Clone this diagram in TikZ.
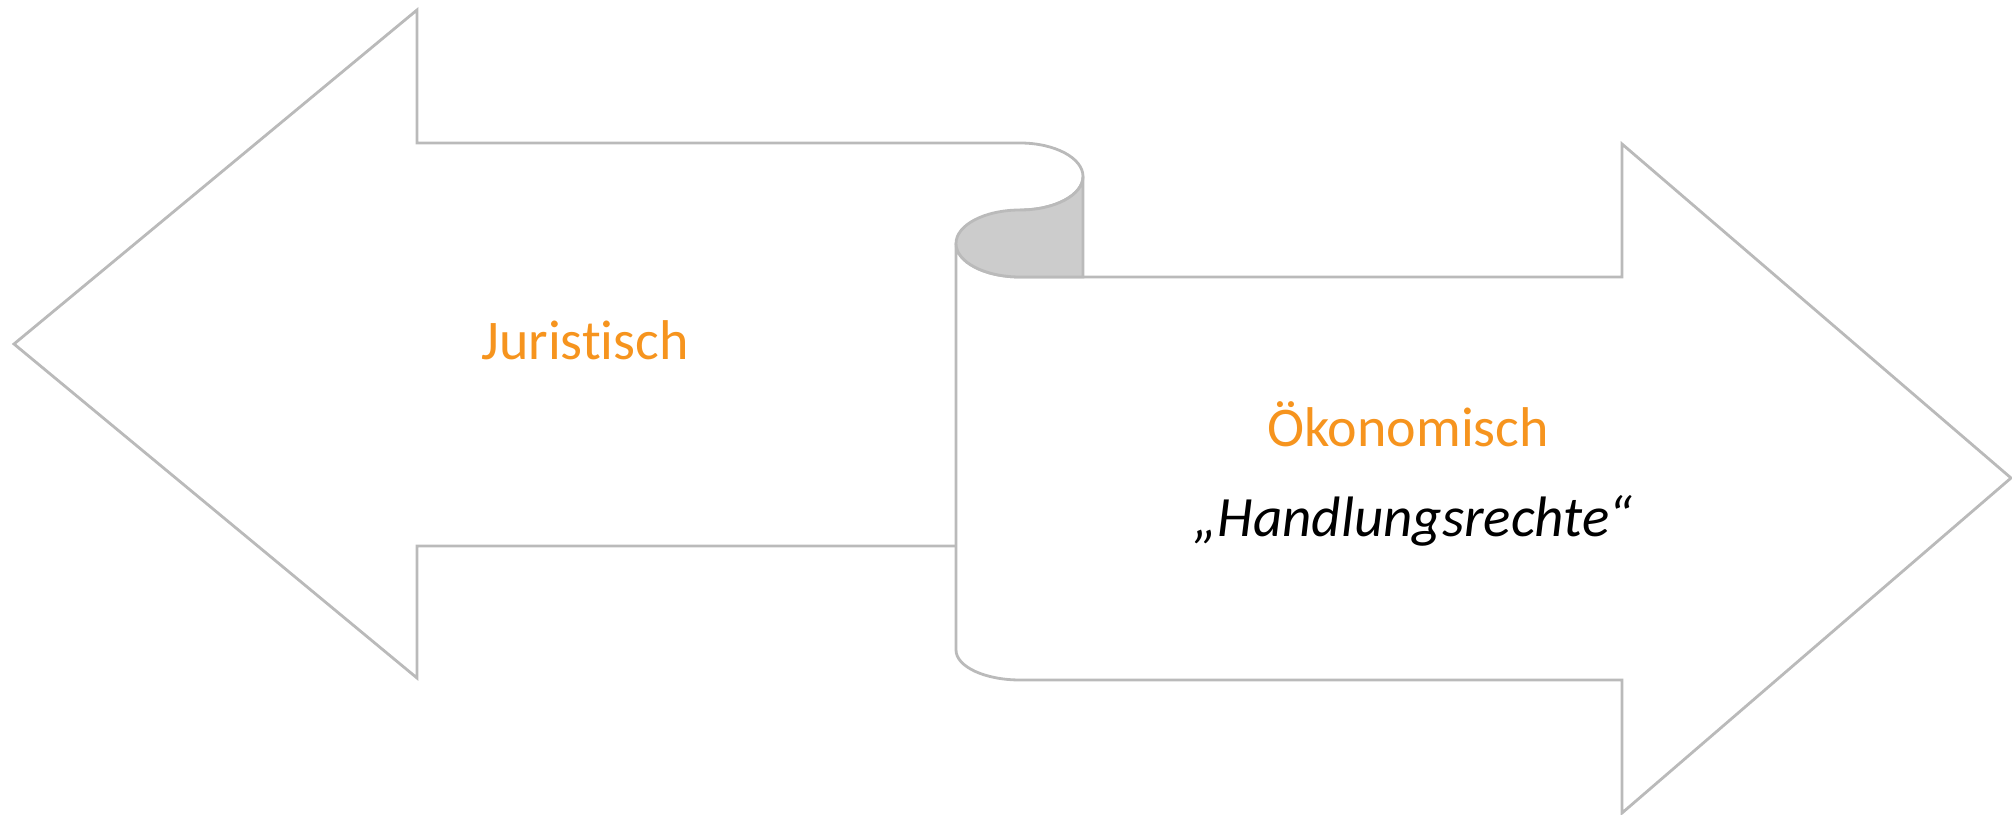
\documentclass[tikz,border=0pt]{standalone}
\usepackage{fontspec}
\setmainfont{Carlito}[Ligatures=NoCommon]
\definecolor{edgegray}{RGB}{186,186,186}
\definecolor{curlgray}{RGB}{204,204,204}
\definecolor{orangetext}{RGB}{246,148,30}
\tikzset{
  arrowshape/.style={draw=edgegray, line width=2.8pt, line join=miter, fill=white},
  curlshape/.style={draw=edgegray, line width=2.8pt, fill=curlgray},
  headlabel/.style={text=orangetext, font=\fontsize{56}{67}\selectfont, inner sep=0pt, anchor=base},
  sublabel/.style={text=black, font=\fontsize{57}{68}\selectfont\itshape, inner sep=0pt, anchor=base}
}
\begin{document}
\begin{tikzpicture}[x=1pt,y=1pt]
\useasboundingbox (0,0) rectangle (2012,814);
% left arrow (back)
\draw[arrowshape, fill=none] (956,268) -- (417,268) -- (417,136) -- (14,470) -- (417,804) -- (417,671) -- (1020,671)
  arc[start angle=90, end angle=-90, x radius=63, y radius=33.5];
% right arrow (front)
\draw[arrowshape] (956,570.5) -- (956,164)
  arc[start angle=180, end angle=270, x radius=64, y radius=30]
  -- (1622,134) -- (1622,1) -- (2011,336) -- (1622,670) -- (1622,537) -- (1020,537)
  arc[start angle=270, end angle=180, x radius=64, y radius=33.5] -- cycle;
% gray curl
\draw[curlshape] (1083,637.5)
  arc[start angle=0, end angle=-90, x radius=63, y radius=33.5]
  arc[start angle=90, end angle=270, x radius=64, y radius=33.5]
  -- (1083,537) -- cycle;
% labels
\node[headlabel] (jur) at (585,454) {Juristisch};
\node[headlabel] (oek) at (1408,367) {Ökonomisch};
\node[sublabel] (hand) at (1413,277) {„Handlungsrechte“};
\end{tikzpicture}
\end{document}
